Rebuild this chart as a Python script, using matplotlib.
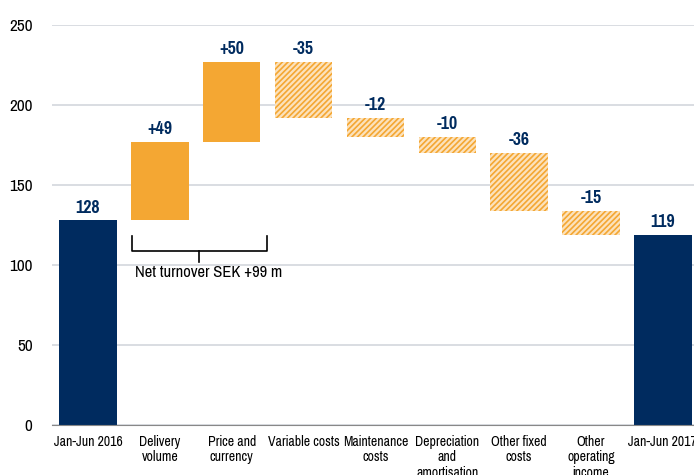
import matplotlib
matplotlib.use("Agg")
import matplotlib.pyplot as plt
import numpy as np

categories = ["Jan-Jun 2016", "Delivery\nvolume", "Price and\ncurrency", "Variable costs",
              "Maintenance\ncosts", "Depreciation\nand\namortisation", "Other fixed\ncosts",
              "Other\noperating\nincome", "Jan-Jun 2017"]
start_value = 128
changes = [49, 50, -35, -12, -10, -36, -15]
end_value = 119
change_labels = ["+49", "+50", "-35", "-12", "-10", "-36", "-15"]
bracket_text = "Net turnover SEK +99 m"

navy = "#002B5F"
orange = "#F4A733"

plt.rcParams['font.family'] = ['Pragati Narrow', 'Liberation Sans', 'DejaVu Sans']
plt.rcParams['hatch.linewidth'] = 1.2

fig = plt.figure(figsize=(6.94, 4.75), dpi=100)
ax = fig.add_axes([0.075, 0.105, 0.932, 0.842])

x = np.arange(len(categories))
w = 0.8

# totals
ax.bar(x[0], start_value, width=w, color=navy)
ax.bar(x[-1], end_value, width=w, color=navy)
ax.text(x[0], start_value + 3, str(start_value), ha="center", va="bottom",
        fontsize=14, fontweight="bold", color=navy)
ax.text(x[-1], end_value + 3, str(end_value), ha="center", va="bottom",
        fontsize=14, fontweight="bold", color=navy)

# steps
level = start_value
for i, (c, lab) in enumerate(zip(changes, change_labels)):
    xi = x[i + 1]
    bottom = level if c > 0 else level + c
    if c > 0:
        ax.bar(xi, c, bottom=bottom, width=w, color=orange, linewidth=0)
    else:
        ax.bar(xi, -c, bottom=bottom, width=w, facecolor="#FCE2BC",
               edgecolor=orange, hatch="//////", linewidth=0)
    top = bottom + abs(c)
    ax.text(xi, top + 3, lab, ha="center", va="bottom",
            fontsize=14, fontweight="bold", color=navy)
    level += c

# bracket for net turnover
bx0, bx1 = 0.61, 2.49
bmid = (bx0 + bx1) / 2
ax.plot([bx0, bx0, bx1, bx1], [118, 109, 109, 118], color="black", lw=1.2)
ax.plot([bmid, bmid], [109, 102], color="black", lw=1.2)
ax.text(0.65, 95.5, bracket_text, ha="left", va="center", fontsize=13)

ax.set_ylim(0, 250)
ax.set_xlim(-0.5, len(categories) - 0.5)
ax.set_yticks(np.arange(0, 251, 50))
ax.yaxis.grid(True, color="#D3D7DD", lw=1.2)
ax.set_axisbelow(True)
ax.set_xticks(x)
ax.set_xticklabels(categories, va="top", linespacing=1.15)
ax.tick_params(axis="both", length=0)
ax.tick_params(axis="x", labelsize=10.8, pad=7)
ax.tick_params(axis="y", labelsize=13.5, pad=14)
for s in ["top", "right", "left"]:
    ax.spines[s].set_visible(False)
ax.spines["bottom"].set_color("#888888")

fig.savefig("out.png", dpi=100)
